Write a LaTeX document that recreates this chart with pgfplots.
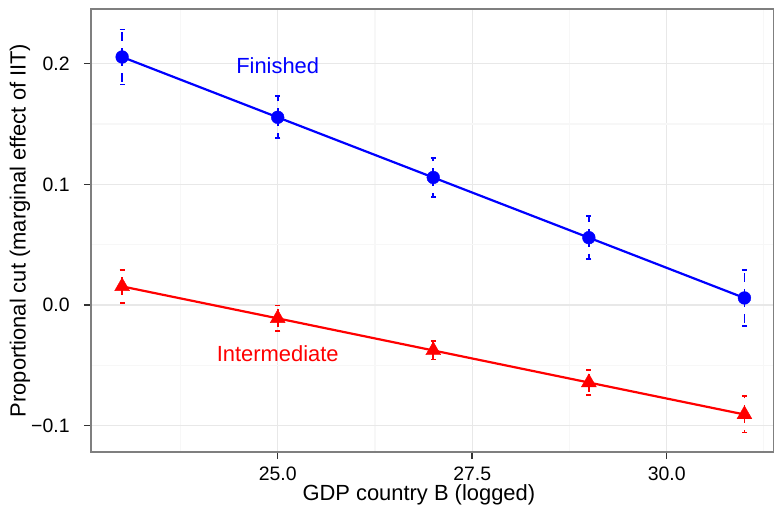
\documentclass[border=0pt]{standalone}
\usepackage{fontspec}
\setmainfont{Liberation Sans}
\usepackage{pgfplots}
\pgfplotsset{compat=1.18}
\usepackage{pgfplotstable}

\definecolor{gridmaj}{RGB}{232,232,232}
\definecolor{gridmin}{RGB}{247,247,247}
\definecolor{border}{RGB}{127,127,127}

\pgfplotstableread{
x y ey
23 0.2056 0.0228
25 0.1556 0.0174
27 0.1057 0.0162
29 0.0558 0.0180
31 0.0058 0.0232
}\finished

\pgfplotstableread{
x y ey
23 0.0154 0.0137
25 -0.0111 0.0106
27 -0.0377 0.0075
29 -0.0643 0.0105
31 -0.0908 0.0150
}\intermediate

\begin{document}
\begin{tikzpicture}
\begin{axis}[
  at={(0,0)}, anchor=south west,
  scale only axis, width=341.5bp, height=221.5bp,
  xmin=22.6, xmax=31.38, ymin=-0.1219, ymax=0.2454,
  xtick={25,27.5,30}, xticklabels={25.0,27.5,30.0},
  ytick={-0.1,0,0.1,0.2}, yticklabels={−0.1,0.0,0.1,0.2},
  minor xtick={23.75,26.25,28.75,31.25},
  minor ytick={-0.05,0.05,0.15},
  grid=both,
  major grid style={draw=gridmaj, line width=0.6bp},
  minor grid style={draw=gridmin, line width=0.6bp},
  axis line style={draw=border, line width=0.7bp},
  tick align=outside, xtick pos=bottom, ytick pos=left,
  major tick length=3.5bp, minor tick length=0pt,
  tick style={draw=black!80, line width=0.7bp},
  ticklabel style={font=\fontsize{9.75}{11}\selectfont, inner sep=0pt},
  xticklabel style={anchor=north, yshift=-4bp},
  yticklabel style={anchor=east, xshift=-7bp},
  xlabel={GDP country B (logged)},
  ylabel={Proportional cut (marginal effect of IIT)},
  every axis x label/.style={at={(axis description cs:0.48,0)}, yshift=-21.5bp, anchor=center, font=\fontsize{11}{13}\selectfont},
  every axis y label/.style={at={(axis description cs:0,0.5)}, xshift=-35.5bp, rotate=90, anchor=center, font=\fontsize{11}{13}\selectfont},
  clip=false,
]
\addplot+[blue, line width=1.1bp, mark=*, mark size=3.2bp, mark options={solid, fill=blue, draw=blue, line width=0.2bp},
  error bars/.cd, y dir=both, y explicit,
  error bar style={blue, line width=0.9bp, dash pattern=on 4.5bp off 3.5bp},
  error mark options={rotate=90, blue, solid, mark size=1.3bp, line width=0.9bp}]
  table[x=x, y=y, y error=ey] {\finished};
\addplot+[red, line width=1.1bp, mark=triangle*, mark size=4.3bp, mark options={solid, fill=red, draw=red, line width=0.2bp},
  error bars/.cd, y dir=both, y explicit,
  error bar style={red, line width=0.9bp, dash pattern=on 4.5bp off 3.5bp},
  error mark options={rotate=90, red, solid, mark size=1.3bp, line width=0.9bp}]
  table[x=x, y=y, y error=ey] {\intermediate};
\node[blue, font=\fontsize{11}{13}\selectfont] at (axis cs:25,0.198) {Finished};
\node[red, font=\fontsize{11}{13}\selectfont] at (axis cs:25,-0.0405) {Intermediate};
\end{axis}
\pgfresetboundingbox
\path[use as bounding box] (-45.5bp,-30bp) rectangle (341.5bp,226bp);
\end{tikzpicture}
\end{document}
